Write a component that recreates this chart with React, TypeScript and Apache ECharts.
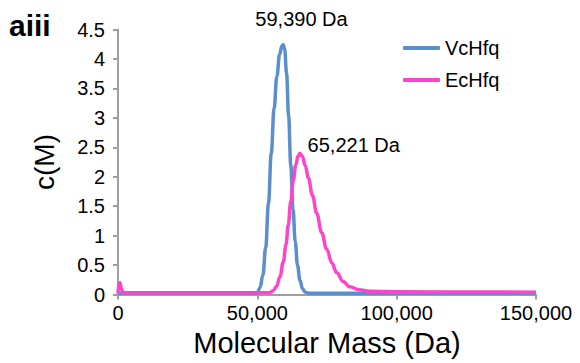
import React, { useEffect, useRef } from "react";
import * as echarts from "echarts";

const panelLabel = "aiii";
const xTicks = [0, 50000, 100000, 150000];
const yTicks = [0, 0.5, 1, 1.5, 2, 2.5, 3, 3.5, 4, 4.5];
const seriesNames = ["VcHfq", "EcHfq"];

const vcMass = [0, 48000, 50000, 51000, 52000, 53000, 54000, 55000, 56000, 57000, 58000, 58800, 59300, 59800, 60500, 61200, 62000, 62800, 63600, 64400, 65300, 66200, 67200, 68500, 150000];
const vcConc = [0.02, 0.02, 0.03, 0.12, 0.33, 0.8, 1.55, 2.4, 3.15, 3.7, 4.08, 4.22, 4.24, 4.17, 3.75, 3.05, 2.2, 1.45, 0.9, 0.5, 0.24, 0.1, 0.04, 0.02, 0.02];

const ecMass = [0, 300, 700, 1200, 1700, 3000, 54500, 55800, 56900, 58100, 59300, 60300, 61100, 62000, 62900, 63800, 64600, 65300, 66100, 67200, 68300, 69800, 71300, 73100, 74900, 76700, 78500, 80800, 83200, 86500, 90400, 100000, 150000];
const ecConc = [0.02, 0.18, 0.2, 0.1, 0.03, 0.03, 0.03, 0.07, 0.14, 0.3, 0.55, 0.85, 1.18, 1.58, 1.94, 2.2, 2.35, 2.4, 2.35, 2.19, 1.98, 1.68, 1.38, 1.05, 0.77, 0.54, 0.37, 0.22, 0.13, 0.08, 0.055, 0.045, 0.04];

const peakLabels = [
  { name: "59,390 Da", mass: 59390, conc: 4.24 },
  { name: "65,221 Da", mass: 65221, conc: 2.4 },
];

const FONT = "'Liberation Sans', Arial, sans-serif";
const BLUE = "#5b8fcb";
const PINK = "#ff44cc";
const AXIS = "#9e9e9e";

export default function App() {
  const ref = useRef<HTMLDivElement>(null);
  useEffect(() => {
    if (!ref.current) return;
    const chart = echarts.init(ref.current, undefined, { renderer: "svg" });
    const vcData = vcMass.map((m, i) => [m, vcConc[i]]);
    const ecData = ecMass.map((m, i) => [m, ecConc[i]]);
    chart.setOption({
      animation: false,
      backgroundColor: "#ffffff",
      textStyle: { fontFamily: FONT },
      title: {
        text: panelLabel,
        left: 9,
        top: 10,
        padding: 0,
        textStyle: { fontFamily: FONT, fontWeight: "bold", fontSize: 30, color: "#000", lineHeight: 30 },
      },
      legend: {
        orient: "vertical",
        left: 398,
        top: 32,
        itemWidth: 37,
        itemHeight: 4,
        itemGap: 10,
        icon: "roundRect",
        data: seriesNames,
        textStyle: { fontFamily: FONT, fontSize: 20, color: "#000", lineHeight: 22 },
      },
      grid: { left: 118, right: 44, top: 29.5, bottom: 68.5, containLabel: false },
      xAxis: {
        type: "value",
        min: xTicks[0],
        max: xTicks[xTicks.length - 1],
        interval: 50000,
        name: "Molecular Mass (Da)",
        nameLocation: "middle",
        nameGap: 34,
        nameTextStyle: { fontFamily: FONT, fontSize: 29, color: "#000" },
        axisLine: { show: true, lineStyle: { color: AXIS, width: 2 } },
        axisTick: { show: true, length: 5, lineStyle: { color: AXIS, width: 2 } },
        axisLabel: {
          margin: 8,
          fontFamily: FONT,
          fontSize: 20,
          color: "#000",
          formatter: (v: number) => v.toLocaleString("en-US"),
        },
        splitLine: { show: false },
      },
      yAxis: {
        type: "value",
        min: yTicks[0],
        max: yTicks[yTicks.length - 1],
        interval: 0.5,
        name: "c(M)",
        nameLocation: "middle",
        nameRotate: 90,
        nameGap: 60,
        nameTextStyle: { fontFamily: FONT, fontSize: 28, color: "#000" },
        axisLine: { show: true, lineStyle: { color: AXIS, width: 2 } },
        axisTick: { show: true, length: 5, lineStyle: { color: AXIS, width: 2 } },
        axisLabel: { margin: 13, fontFamily: FONT, fontSize: 20, color: "#000" },
        splitLine: { show: false },
      },
      series: [
        {
          name: seriesNames[0],
          type: "line",
          data: vcData,
          showSymbol: false,
          symbol: "none",
          smooth: 0.4,
          smoothMonotone: "x",
          color: BLUE,
          lineStyle: { color: BLUE, width: 3.5 },
          z: 2,
          markPoint: {
            symbol: "circle",
            symbolSize: 0,
            silent: true,
            data: [
              {
                coord: [peakLabels[0].mass, peakLabels[0].conc],
                label: {
                  show: true,
                  formatter: peakLabels[0].name,
                  position: "inside",
                  offset: [18, -26],
                  fontFamily: FONT,
                  fontSize: 20,
                  color: "#000",
                },
              },
            ],
          },
        },
        {
          name: seriesNames[1],
          type: "line",
          data: ecData,
          showSymbol: false,
          symbol: "none",
          smooth: 0.4,
          smoothMonotone: "x",
          color: PINK,
          lineStyle: { color: PINK, width: 3.5 },
          z: 3,
          markPoint: {
            symbol: "circle",
            symbolSize: 0,
            silent: true,
            data: [
              {
                coord: [peakLabels[1].mass, peakLabels[1].conc],
                label: {
                  show: true,
                  formatter: peakLabels[1].name,
                  position: "inside",
                  offset: [54, -8],
                  fontFamily: FONT,
                  fontSize: 20,
                  color: "#000",
                },
              },
            ],
          },
        },
      ],
    });
    return () => chart.dispose();
  }, []);
  return (
    <div
      ref={ref}
      style={{ position: "absolute", left: 0, top: 0, width: 580, height: 363, background: "#fff" }}
    />
  );
}
